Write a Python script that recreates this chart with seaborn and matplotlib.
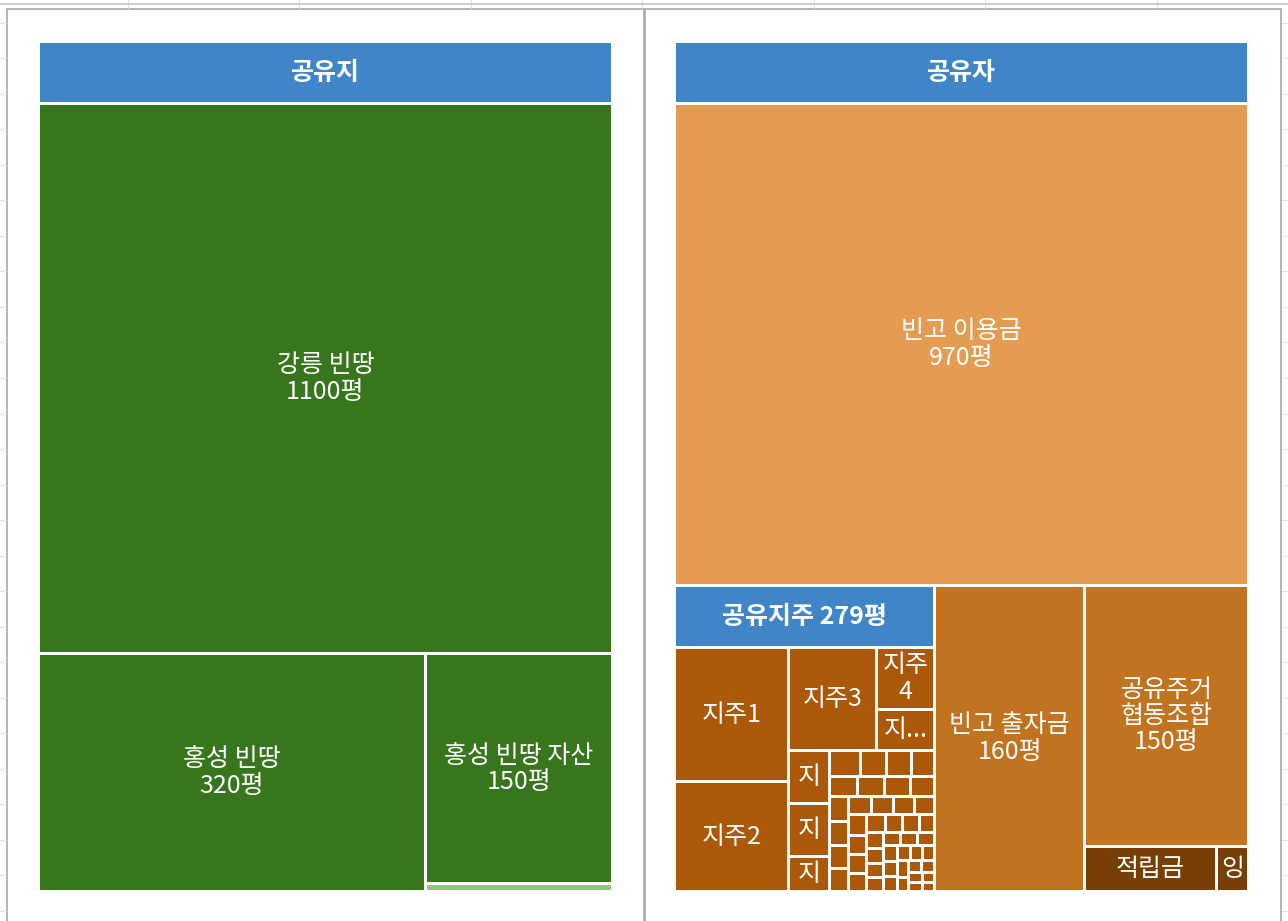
import matplotlib
matplotlib.use('Agg')
import matplotlib.pyplot as plt
from matplotlib.patches import Rectangle
from functools import lru_cache
import numpy as np
import seaborn as sns

# ── Setup ─────────────────────────────────────────────────
sns.set_theme(style='white')
plt.rcParams['font.family'] = ['Noto Sans CJK KR', 'DejaVu Sans']

# ── Data ──────────────────────────────────────────────────
land_title = '공유지'
land_names = ['강릉 빈땅', '홍성 빈땅', '홍성 빈땅 자산', '기타']
land_values = [1100, 320, 150, 5]

owner_title = '공유자'
owner_names = ['빈고 이용금', '공유지주', '빈고 출자금', '공유주거 협동조합', '적립금', '잉여금']
owner_values = [970, None, 160, 150, 21, 5]   # None -> sum of the 지주 below

jiju_values = [67, 55, 40, 15.7, 10.5, 9.7, 9.7, 6.3, 3.4,
               3.0, 2.8, 2.6, 2.5, 2.4, 2.3, 2.2, 2.1, 2.0, 2.0,
               1.9, 1.8, 1.8, 1.7, 1.6, 1.6, 1.5, 1.5, 1.4, 1.4,
               1.3, 1.3, 1.2, 1.2, 1.1, 1.1, 1.0, 1.0, 1.0, 1.0, 1.0,
               0.9, 0.9, 0.9, 0.8, 0.8, 0.8, 0.7, 0.7, 0.7, 0.6, 0.6, 0.5, 0.5]
jiju_names = [f'지주{i + 1}' for i in range(len(jiju_values))]

# ── Style ─────────────────────────────────────────────────
HEADER = '#3F85C7'
land_colors = ['#38761D', '#38761D', '#38761D', '#93C47D']
owner_colors = ['#E49C52', None, '#C2731F', '#C2731F', '#783F04', '#783F04']
jiju_color = '#AB5908'
HEADER_H = 62
GAP = 1.5
FS = 18
W, H = 1288, 921

fig = plt.figure(figsize=(W / 100, H / 100), dpi=100)
fig.patch.set_facecolor('white')
ax = fig.add_axes([0, 0, 1, 1])
ax.set_xlim(0, W)
ax.set_ylim(H, 0)
ax.axis('off')
renderer = fig.canvas.get_renderer()


# ── Squarified layout ─────────────────────────────────────
def worst(rects):
    return max(max(w / h, h / w) for _, _, w, h in rects)


@lru_cache(maxsize=None)
def squarify(vals, x, y, w, h):
    if len(vals) == 1:
        return ((x, y, w, h),)
    total = sum(vals)
    best = None
    for k in range(1, len(vals)):
        frac = sum(vals[:k]) / total
        rr = (x, y, w * frac, h) if w >= h else (x, y, w, h * frac)
        sub = squarify(vals[:k], *rr)
        score = worst(sub)
        if best is None or score < best[0] * 0.94:
            best = (score, k, sub, rr)
        else:
            break
    _, k, sub, rr = best
    if w >= h:
        rest = squarify(vals[k:], x + rr[2], y, w - rr[2], h)
    else:
        rest = squarify(vals[k:], x, y + rr[3], w, h - rr[3])
    return sub + rest


# ── Labels ────────────────────────────────────────────────
def text_w(s, bold=False):
    t = ax.text(0, 0, s, fontsize=FS, fontweight='bold' if bold else 'normal')
    bw = t.get_window_extent(renderer).width
    t.remove()
    return bw


def wrap(s, maxw, bold=False):
    lines = []
    for para in s.split('\n'):
        cur = ''
        for word in para.split(' '):
            trial = word if not cur else cur + ' ' + word
            if text_w(trial, bold) <= maxw:
                cur = trial
                continue
            if cur:
                lines.append(cur)
            cur = ''
            for ch in word:
                if cur and text_w(cur + ch, bold) > maxw:
                    lines.append(cur)
                    cur = ch
                else:
                    cur += ch
        lines.append(cur)
    return '\n'.join(lines)


def put_label(x, y, w, h, name, full=None, bold=False, clip_rect=None):
    pad = 3
    cands = []
    if full:
        cands.append(wrap(full, w - 2 * pad, bold))
    cands.append(wrap(name, w - 2 * pad, bold))
    cands += [name[:k] + '...' for k in range(len(name) - 1, 0, -1)]
    cands.append(name[0])
    for c in cands:
        t = ax.text(x + w / 2, y + h / 2, c, ha='center', va='center',
                    multialignment='center', color='white', fontsize=FS,
                    fontweight='bold' if bold else 'normal', linespacing=1.02)
        bb = t.get_window_extent(renderer)
        if bb.width <= w - 2 * pad + 2 and bb.height <= h - 2:
            return
        t.remove()
    if w >= 8 and h >= 26 and clip_rect is not None:
        t = ax.text(x + w / 2, y + h / 2, name[0], ha='center', va='center',
                    color='white', fontsize=FS)
        t.set_clip_path(clip_rect)


def cell(x, y, w, h, color, name, full=None, bold=False):
    r = Rectangle((x + GAP, y + GAP), max(w - 2 * GAP, 0.3), max(h - 2 * GAP, 0.3),
                  facecolor=color, edgecolor='none')
    ax.add_patch(r)
    put_label(x + GAP, y + GAP, w - 2 * GAP, h - 2 * GAP, name, full, bold, r)


# ── Tree ──────────────────────────────────────────────────
def leaf(name, value, color, show_value=True):
    full = f'{name}\n{value:g}평' if show_value else None
    return dict(name=name, value=value, color=color, full=full)


jiju_kids = [leaf(n, v, jiju_color, show_value=False)
             for n, v in zip(jiju_names, jiju_values)]
jiju_total = sum(jiju_values)

land_tree = dict(name=land_title, header=land_title,
                 children=[leaf(n, v, c) for n, v, c in
                           zip(land_names, land_values, land_colors)])
owner_kids = []
for n, v, c in zip(owner_names, owner_values, owner_colors):
    if v is None:
        owner_kids.append(dict(name=n, value=jiju_total,
                               header=f'{n} {jiju_total:.0f}평',
                               children=jiju_kids))
    else:
        owner_kids.append(leaf(n, v, c))
owner_tree = dict(name=owner_title, header=owner_title, children=owner_kids)


def draw_node(node, x, y, w, h):
    if 'children' in node:
        cell(x, y, w, HEADER_H, HEADER, node['header'], bold=True)
        kids = node['children']
        rects = squarify(tuple(k['value'] for k in kids), x, y + HEADER_H, w, h - HEADER_H)
        for k, r in zip(kids, rects):
            draw_node(k, *r)
    else:
        cell(x, y, w, h, node['color'], node['name'], node['full'])


# ── Spreadsheet background ────────────────────────────────
for yy in np.arange(23, H, 35.5):
    ax.plot([0, 6], [yy, yy], color='#E3E3E3', lw=0.8)
    ax.plot([1282, W], [yy, yy], color='#E3E3E3', lw=0.8)
for xx in np.arange(128, W, 171.5):
    ax.plot([xx, xx], [0, 8], color='#E3E3E3', lw=0.8)
ax.plot([0, W], [4, 4], color='#C4C4C4', lw=1.2)
ax.add_patch(Rectangle((7, 9), 637, 930, facecolor='white', edgecolor='#A8A8A8', lw=1.2))
ax.add_patch(Rectangle((645.5, 9), 636, 930, facecolor='white', edgecolor='#A8A8A8', lw=1.2))

# ── Charts ────────────────────────────────────────────────
draw_node(land_tree, 38.5, 41.5, 574, 850)
draw_node(owner_tree, 674.5, 41.5, 574, 850)

fig.savefig('out.png', dpi=100, facecolor='white')
